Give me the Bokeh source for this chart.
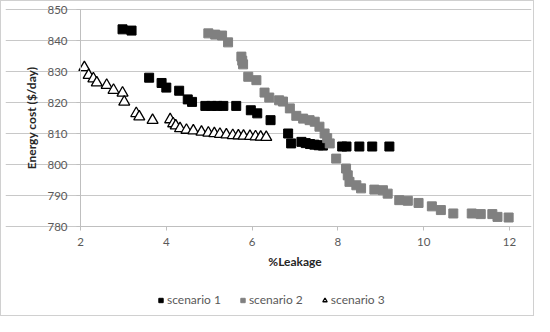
from bokeh.plotting import figure
from bokeh.models import Range1d, FixedTicker, Legend, LegendItem
from bokeh.embed import file_html
from bokeh.resources import INLINE

# scenario 1 (black squares)
s1_x = [2.98, 3.19, 3.60, 3.89, 4.00, 4.30, 4.50, 4.60, 4.91, 5.05, 5.19, 5.33, 5.63, 5.97, 6.12,
        6.43, 6.84, 6.91, 7.15, 7.25, 7.35, 7.45, 7.55, 7.65, 8.10, 8.20, 8.50, 8.80, 9.20]
s1_y = [843.6, 843.2, 828.0, 826.3, 824.8, 823.8, 821.0, 820.2, 818.9, 818.9, 818.9, 818.9, 818.9, 817.5, 816.5,
        814.3, 810.0, 806.8, 807.3, 806.9, 806.6, 806.4, 806.2, 806.1, 805.8, 805.8, 805.8, 805.8, 805.8]

# scenario 2 (grey squares)
s2_x = [4.98, 5.14, 5.30, 5.44, 5.75, 5.77, 5.79, 5.91, 6.10, 6.29, 6.40, 6.63, 6.72, 6.88, 7.03,
        7.19, 7.34, 7.46, 7.57, 7.69, 7.75, 7.81, 7.96, 8.19, 8.23, 8.27, 8.43, 8.54, 8.85, 9.05,
        9.16, 9.43, 9.63, 9.88, 10.19, 10.40, 10.69, 11.12, 11.33, 11.60, 11.72, 11.98]
s2_y = [842.3, 841.9, 841.6, 839.4, 834.8, 833.5, 832.3, 828.3, 827.2, 823.2, 821.6, 820.7, 820.3, 818.1, 815.7,
        814.8, 814.3, 813.8, 812.2, 810.0, 808.5, 806.8, 801.9, 798.7, 796.5, 794.4, 793.3, 792.3, 791.9, 791.7,
        790.6, 788.5, 788.3, 787.6, 786.5, 785.3, 784.2, 784.2, 784.0, 784.0, 783.1, 782.9]

# scenario 3 (open triangles)
s3_x = [2.09, 2.19, 2.30, 2.38, 2.61, 2.77, 2.98, 3.02, 3.30, 3.37, 3.68, 4.09, 4.16, 4.22, 4.32,
        4.47, 4.63, 4.82, 4.98, 5.12, 5.25, 5.40, 5.55, 5.68, 5.80, 5.95, 6.08, 6.20, 6.33]
s3_y = [831.3, 828.8, 827.7, 826.4, 825.6, 824.0, 823.1, 820.2, 816.5, 815.4, 814.3, 814.5, 813.2, 812.5, 811.6,
        811.1, 810.9, 810.5, 810.2, 810.0, 809.8, 809.6, 809.4, 809.3, 809.2, 809.1, 809.0, 808.9, 808.8]

x_ticks = [2, 4, 6, 8, 10, 12]
y_ticks = [780, 790, 800, 810, 820, 830, 840, 850]
series_names = ["scenario 1", "scenario 2", "scenario 3"]

X_MIN, X_MAX = 2, 12
Y_MIN, Y_MAX = 780, 850

# pixel layout of the plotting band inside the figure (figure is 534 x 316)
W, H = 534, 316
B = 4                      # small border around the (enlarged) frame
PL, PR, PT, PB = 79, 508, 8, 225   # where X_MIN, X_MAX, Y_MAX, Y_MIN fall
kx = (X_MAX - X_MIN) / (PR - PL)
ky = (Y_MAX - Y_MIN) / (PB - PT)
x_lo = X_MIN - (PL - B) * kx
x_hi = X_MAX + (W - B - PR) * kx
y_hi = Y_MAX + (PT - B) * ky
y_lo = Y_MIN - (H - B - PB) * ky

FONT = "Lato"
TXT = "#595959"

p = figure(width=W, height=H, output_backend="svg", toolbar_location=None,
           x_range=Range1d(x_lo, x_hi), y_range=Range1d(y_lo, y_hi),
           min_border_left=B, min_border_right=B, min_border_top=B, min_border_bottom=B)
p.styles = {"border": "1px solid #d0d0d0"}
p.outline_line_color = None
p.background_fill_color = "white"
p.border_fill_color = "white"

p.xgrid.grid_line_color = None
p.ygrid.grid_line_color = "#c8c8c8"
p.ygrid.grid_line_width = 1
p.ygrid.bounds = (X_MIN, X_MAX)

for ax in (p.xaxis[0], p.yaxis[0]):
    ax.axis_line_color = "#bfbfbf"
    ax.major_tick_line_color = "#bfbfbf"
    ax.major_tick_out = 4
    ax.major_tick_in = 0
    ax.minor_tick_line_color = None
    ax.major_label_text_font = FONT
    ax.major_label_text_font_size = "11.5px"
    ax.major_label_text_color = TXT
    ax.axis_label_text_font = FONT
    ax.axis_label_text_font_size = "12px"
    ax.axis_label_text_font_style = "bold"
    ax.axis_label_text_color = "#262626"

p.xaxis.ticker = FixedTicker(ticks=x_ticks)
p.yaxis.ticker = FixedTicker(ticks=y_ticks)
p.xaxis.fixed_location = Y_MIN
p.yaxis.fixed_location = X_MIN
p.xaxis.bounds = (X_MIN, X_MAX)
p.yaxis.bounds = (Y_MIN, Y_MAX)
p.xaxis.axis_label = "%Leakage"
p.yaxis.axis_label = "Energy cost ($/day)"
p.xaxis.major_label_standoff = 7
p.xaxis.axis_label_standoff = 5
p.yaxis.major_label_standoff = 9
p.yaxis.axis_label_standoff = 5

r1 = p.scatter(s1_x, s1_y, marker="square", size=9, fill_color="black", line_color="black")
r2 = p.scatter(s2_x, s2_y, marker="square", size=9, fill_color="#808080", line_color="#808080")
r3 = p.scatter(s3_x, s3_y, marker="triangle", size=11, fill_color="white", line_color="black", line_width=1.3)

legend = Legend(items=[LegendItem(label=series_names[0], renderers=[r1]),
                       LegendItem(label=series_names[1], renderers=[r2]),
                       LegendItem(label=series_names[2], renderers=[r3])],
                orientation="horizontal", location=(150, 6),
                label_text_font=FONT, label_text_font_size="12px", label_text_color=TXT,
                glyph_width=11, glyph_height=14, label_standoff=1, spacing=16, padding=2,
                margin=0,
                border_line_color=None, background_fill_alpha=0)
p.add_layout(legend, "center")

open("out.html", "w").write(file_html(p, INLINE))
